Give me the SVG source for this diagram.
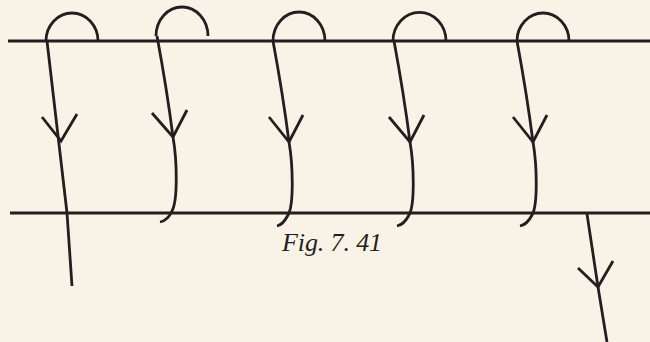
<svg xmlns="http://www.w3.org/2000/svg" width="650" height="342" viewBox="0 0 650 342">
<style>
.ln{fill:none;stroke:#231f20;stroke-width:2.8;stroke-linecap:butt;stroke-linejoin:miter}
.cap{font-family:"Liberation Serif",serif;font-style:italic;font-size:26px;fill:#231f20}
</style>
<rect width="650" height="342" fill="#f9f3e7"/>
<g id="rails" class="ln">
<line x1="8" y1="41" x2="650" y2="41"/>
<line x1="10" y1="213" x2="650" y2="213"/>
</g>
<g id="connectors" class="ln">
<g id="loop1">
<path d="M46,41 A26,28 0 0 1 98,41"/>
<path d="M47,41 L67,213 L72,286"/>
<path d="M42,117 L61,141 L77,114"/>
</g>
<g id="loop2">
<path d="M156,36 A26,29 0 0 1 208,36"/>
<path d="M157,36 Q167,90 173,137 C177,160 178,200 172,211 C169,218 165,221 160,222"/>
<path d="M152,113 L173,137 L187,110"/>
</g>
<g id="loop3">
<path d="M273,41 A26,29 0 0 1 325,41"/>
<path d="M273,41 Q283,95 289,142 C293,165 294,205 288,215 C285,221 282,225 277,226"/>
<path d="M269,117 L289,142 L303,115"/>
</g>
<g id="loop4">
<path d="M393,41 A26,28 0 0 1 446,41"/>
<path d="M394,41 Q404,95 410,142 C414,165 415,205 409,215 C406,221 402,225 397,226"/>
<path d="M389,117 L410,142 L424,115"/>
</g>
<g id="loop5">
<path d="M517,41 A26,28 0 0 1 569,41"/>
<path d="M517,41 Q527,95 533,142 C537,165 538,205 532,215 C529,221 525,225 520,226"/>
<path d="M513,117 L533,142 L547,115"/>
</g>
<g id="exit">
<path d="M587,214 L598,287 L607,342"/>
<path d="M578,268 L598,287 L613,261"/>
</g>
</g>
<text class="cap" x="282" y="251" textLength="100">Fig. 7. 41</text>
</svg>
